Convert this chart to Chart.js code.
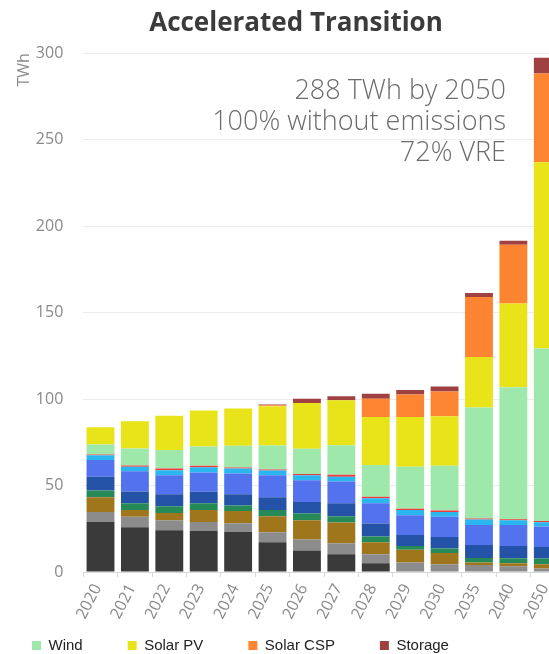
<!DOCTYPE html>
<html>
<head>
<meta charset="utf-8">
<script src="https://cdn.jsdelivr.net/npm/chart.js@4.4.1/dist/chart.umd.min.js"></script>
<style>
  html, body { margin: 0; padding: 0; background: #fff; overflow: hidden; width: 549px; height: 654px; }
  canvas { display: block; }
</style>
</head>
<body>
<canvas id="c" width="605" height="692"></canvas>
<script>
const years = ['2020','2021','2022','2023','2024','2025','2026','2027','2028','2029','2030','2035','2040','2050'];

const coal       = [29.1, 25.9, 24.1, 23.7, 23.1, 17.2, 12.4, 10.3, 5.1, 0, 0, 0, 0, 0];
const diesel     = [5.6, 6.1, 5.8, 5.2, 5.1, 5.8, 6.4, 6.3, 5.2, 5.5, 4.5, 4.1, 3.3, 2.0];
const gas        = [8.5, 3.8, 4.2, 6.9, 7.1, 9.2, 11.1, 12.0, 6.9, 7.3, 6.5, 1.4, 1.8, 2.5];
const biomass    = [4.0, 3.9, 3.9, 3.9, 3.2, 3.6, 3.9, 3.6, 3.3, 2.3, 2.6, 2.6, 2.9, 3.3];
const hydroRes   = [7.9, 6.9, 6.9, 6.7, 6.4, 7.4, 6.7, 7.5, 7.5, 6.3, 6.7, 7.5, 7.1, 6.7];
const hydroRoR   = [9.6, 11.6, 11.1, 11.2, 12.1, 12.8, 12.5, 12.7, 11.7, 11.4, 11.7, 11.6, 12.1, 11.8];
const miniHydro  = [2.8, 2.7, 2.9, 3.0, 2.9, 2.7, 3.0, 2.7, 2.9, 3.0, 2.7, 3.2, 2.7, 2.5];
const geothermal = [0.5, 0.7, 1.0, 0.9, 0.6, 0.6, 0.7, 1.1, 0.9, 0.8, 0.9, 0.6, 0.6, 0.7];
const wind       = [5.7, 9.8, 10.6, 11.0, 12.5, 13.9, 14.5, 17.1, 18.4, 24.3, 25.9, 64.1, 76.3, 99.7];
const solarPV    = [10.0, 15.8, 19.8, 20.9, 21.5, 22.7, 26.5, 26.0, 27.7, 28.8, 28.5, 29.2, 48.5, 107.8];
const solarCSP   = [0, 0, 0, 0, 0, 0.5, 0, 0, 10.6, 12.9, 14.4, 34.7, 33.9, 51.2];
const storage    = [0, 0, 0, 0, 0, 0.4, 2.5, 2.3, 2.9, 2.7, 2.9, 2.3, 2.3, 9.1];

const yTicks = [0, 50, 100, 150, 200, 250, 300];
const titleText = 'Accelerated Transition';
const yTitle = 'TWh';
const noteLines = ['288 TWh by 2050', '100% without emissions', '72% VRE'];
const legendShown = ['Wind', 'Solar PV', 'Solar CSP', 'Storage'];

const series = [
  ['Coal', coal, '#3a3a3a'],
  ['Diesel', diesel, '#8c8c8c'],
  ['Natural Gas', gas, '#a0761c'],
  ['Biomass', biomass, '#258a58'],
  ['Hydro Reservoir', hydroRes, '#2452a6'],
  ['Hydro Run-of-river', hydroRoR, '#5372ee'],
  ['Mini Hydro', miniHydro, '#2ab6ef'],
  ['Geothermal', geothermal, '#ee3a3a'],
  ['Wind', wind, '#9fe8ac'],
  ['Solar PV', solarPV, '#e9e419'],
  ['Solar CSP', solarCSP, '#fd8531'],
  ['Storage', storage, '#a04141']
];

const notePlugin = {
  id: 'note',
  afterLayout(chart) {
    const L = chart.legend;
    if (L) { L.top -= 39; L.bottom -= 39; }
  },
  afterDraw(chart) {
    const ctx = chart.ctx, a = chart.chartArea;
    ctx.save();
    ctx.font = '300 27px "Open Sans"';
    ctx.fillStyle = '#6c6c6c';
    ctx.textAlign = 'right';
    ctx.textBaseline = 'middle';
    noteLines.forEach((t, i) => ctx.fillText(t, a.right - 59, a.top + 38 + i * 31));
    ctx.restore();
  }
};

new Chart(document.getElementById('c'), {
  type: 'bar',
  data: {
    labels: years,
    datasets: series.map(([name, vals, col]) => ({
      label: name, data: vals, backgroundColor: col, borderWidth: 0,
      categoryPercentage: 0.9, barPercentage: 0.9, stack: 's'
    }))
  },
  options: {
    responsive: false,
    animation: false,
    layout: { padding: { left: -13, right: 0, top: 0, bottom: 0 } },
    plugins: {
      title: {
        display: true, text: titleText, color: '#3b3b3b',
        font: { family: 'Open Sans', size: 26, weight: 700, lineHeight: 1.2 },
        padding: { top: 8, bottom: 14 }
      },
      legend: {
        position: 'bottom', align: 'start', maxHeight: 60,
        labels: {
          boxWidth: 9, boxHeight: 9, padding: 45, color: '#222',
          font: { family: 'Liberation Sans', size: 15 },
          filter: (item) => legendShown.includes(item.text)
        }
      },
      tooltip: { enabled: false }
    },
    scales: {
      x: {
        stacked: true,
        grid: { display: true, drawOnChartArea: false, drawTicks: true, tickLength: 5, color: '#d9d9d9' },
        border: { display: true, color: '#d9d9d9' },
        ticks: { color: '#8a8a8a', font: { family: 'Open Sans', size: 16 }, minRotation: 63, maxRotation: 63, padding: 4, labelOffset: -3 },
        afterFit: (s) => { s.height = 60; }
      },
      y: {
        stacked: true, min: 0, max: 300,
        afterBuildTicks: (s) => { s.ticks = yTicks.map(v => ({ value: v })); },
        grid: { color: '#ececec', drawTicks: false },
        border: { display: false },
        ticks: { color: '#8a8a8a', font: { family: 'Open Sans', size: 16 }, padding: 20 },
        title: { display: true, text: yTitle, align: 'end', color: '#8a8a8a',
                 font: { family: 'Open Sans', size: 16 }, padding: { top: 28, bottom: 0 } },
        afterFit: (s) => { s.width = 96.3; }
      },
      yR: {
        position: 'right', display: true,
        grid: { display: false }, border: { display: false },
        ticks: { display: false },
        afterFit: (s) => { s.width = 40; }
      }
    }
  },
  plugins: [notePlugin]
});
</script>
</body>
</html>
